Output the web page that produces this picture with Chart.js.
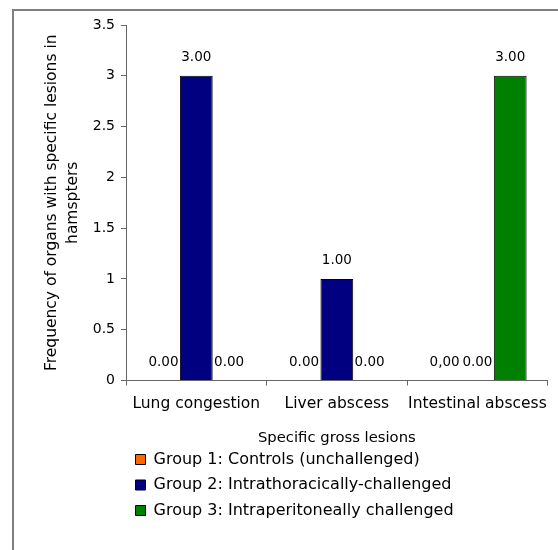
<!DOCTYPE html>
<html>
<head>
<meta charset="utf-8">
<script src="https://cdn.jsdelivr.net/npm/chart.js@4/dist/chart.umd.min.js"></script>
<style>
  html, body { margin: 0; padding: 0; background: #fff; }
  #wrap { position: relative; width: 558px; height: 550px; overflow: hidden; }
  #frame { position: absolute; left: 12px; top: 9px; width: 600px; height: 600px;
           border-left: 2px solid #808080; border-top: 2px solid #808080; box-sizing: border-box; }
  canvas { position: absolute; left: 0; top: 0; }
</style>
</head>
<body>
<div id="wrap">
  <div id="frame"></div>
  <canvas id="c" width="558" height="550"></canvas>
</div>
<script>
const categories = ["Lung congestion", "Liver abscess", "Intestinal abscess"];
const seriesNames = [
  "Group 1: Controls (unchallenged)",
  "Group 2: Intrathoracically-challenged",
  "Group 3: Intraperitoneally challenged"
];
const group1 = [0, 0, 0];
const group2 = [3, 1, 0];
const group3 = [0, 0, 3];
const group1Labels = ["0.00", "0.00", "0,00"];
const group2Labels = ["3.00", "1.00", "0.00"];
const group3Labels = ["0.00", "0.00", "3.00"];
const yTicks = [0, 0.5, 1, 1.5, 2, 2.5, 3, 3.5];
const yTitle = ["Frequency of organs with specific lesions in", "hamspters"];
const xTitle = "Specific gross lesions";

const FONT = "'DejaVu Sans', sans-serif";
const labelSets = [group1Labels, group2Labels, group3Labels];

const valueLabels = {
  id: 'valueLabels',
  afterDatasetsDraw(chart) {
    const ctx = chart.ctx;
    ctx.save();
    ctx.font = "13.5px " + FONT;
    ctx.fillStyle = "#000";
    ctx.textAlign = "center";
    ctx.textBaseline = "middle";
    chart.data.datasets.forEach((ds, di) => {
      const meta = chart.getDatasetMeta(di);
      meta.data.forEach((bar, i) => {
        ctx.fillText(labelSets[di][i], bar.x, bar.y - 18.5);
      });
    });
    ctx.restore();
  }
};

new Chart(document.getElementById('c'), {
  type: 'bar',
  data: {
    labels: categories,
    datasets: [
      { label: seriesNames[0], data: group1, backgroundColor: '#FF6600', borderColor: '#000', borderWidth: 1 },
      { label: seriesNames[1], data: group2, backgroundColor: '#000080', borderColor: '#000', borderWidth: 1 },
      { label: seriesNames[2], data: group3, backgroundColor: '#008000', borderColor: '#000', borderWidth: 1 }
    ]
  },
  options: {
    responsive: false,
    animation: false,
    devicePixelRatio: 1,
    layout: { padding: { left: 30, right: 10, top: 25, bottom: 21.5 } },
    datasets: { bar: { categoryPercentage: 0.70, barPercentage: 1.0 } },
    plugins: {
      tooltip: { enabled: false },
      legend: {
        display: true,
        position: 'bottom',
        align: 'start',
        fullSize: false,
        labels: {
          font: { family: FONT, size: 16 },
          color: '#000',
          boxWidth: 10,
          boxHeight: 10,
          padding: 9.5
        }
      }
    },
    scales: {
      x: {
        afterFit(scale) { scale.height = 61.5; },
        grid: { display: true, offset: true, drawOnChartArea: false, drawTicks: true, tickLength: 5, color: '#666' },
        border: { display: true, color: '#666', width: 1 },
        ticks: { font: { family: FONT, size: 15.5 }, color: '#000', padding: 9.6, maxRotation: 0, autoSkip: false },
        title: { display: true, text: xTitle, font: { family: FONT, size: 14.8 }, color: '#000', padding: { top: 0, bottom: -5.4 } }
      },
      y: {
        min: 0,
        max: 3.5,
        afterBuildTicks(scale) { scale.ticks = yTicks.map(v => ({ value: v })); },
        afterFit(scale) { scale.width = 96; },
        grid: { display: true, drawOnChartArea: false, drawTicks: true, tickLength: 5, color: '#666' },
        border: { display: true, color: '#666', width: 1 },
        ticks: { font: { family: FONT, size: 14 }, color: '#000', padding: 6, callback: v => String(v) },
        title: { display: true, text: yTitle, font: { family: FONT, size: 15.5, lineHeight: 1.355 }, color: '#000', padding: { top: 11.5, bottom: 0 } }
      }
    }
  },
  plugins: [valueLabels]
});
</script>
</body>
</html>
